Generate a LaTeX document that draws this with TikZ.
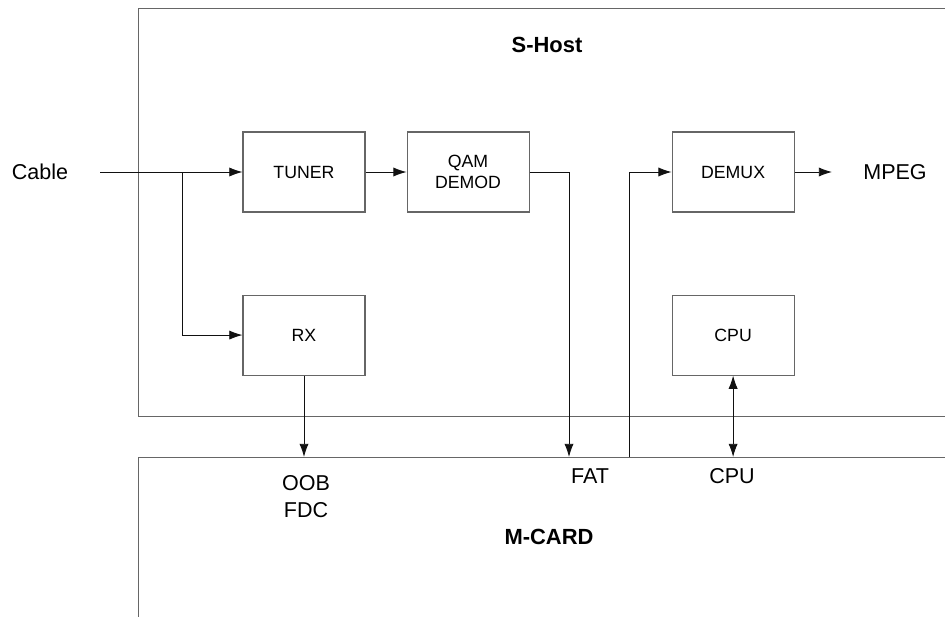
\documentclass[tikz,border=0pt]{standalone}
\usepackage{fontspec}
\setmainfont{Liberation Sans}
\usetikzlibrary{arrows.meta, positioning}
\definecolor{framegray}{HTML}{666666}
\definecolor{ink}{HTML}{111111}

\begin{document}
\begin{tikzpicture}[
  font=\fontsize{12.6}{15.3}\selectfont,        % Arial-like, box text
  frame/.style={rectangle, draw=framegray, line width=0.8pt, anchor=north west},
  block/.style={rectangle, draw=framegray, line width=0.75pt, fill=white,
                minimum width=3.05cm, minimum height=2cm, align=center, inner sep=0pt},
  tag/.style={font=\fontsize{15.3}{19.4}\selectfont, align=center, inner sep=0pt},
  title/.style={font=\bfseries\fontsize{15.6}{18}\selectfont, inner sep=0pt},
  sig/.style={-{Latex[length=3.3mm, width=2.3mm]}, draw=ink, line width=0.65pt},
  bisig/.style={{Latex[length=3.3mm, width=2.3mm]}-{Latex[length=3.3mm, width=2.3mm]},
                draw=ink, line width=0.65pt}
]
  % page = 945 x 616 px at 0.025cm/px
  \useasboundingbox (0,0) rectangle (23.625,15.4);
  \clip (0,0) rectangle (23.625,15.4);

  % --- host and card frames (both run off the right / bottom edge) ---
  \node[frame, minimum width=21cm, minimum height=10.2cm] (shost) at (3.45,15.2) {};
  \node[frame, minimum width=21cm, minimum height=5cm]    (mcard) at (3.45,3.975) {};
  \node[title] (hostlabel) at (13.675,14.275) {S-Host};
  \node[title] (cardlabel) at (13.725,1.975)  {M-CARD};

  % --- top row: tuner | qam demod | demux ---
  \node[block] (tuner) at (7.6,11.1)          {TUNER};
  \node[block, right=1.025cm of tuner] (qam)  {QAM\\ DEMOD};
  \node[block, right=3.55cm of qam]   (demux) {DEMUX};
  % --- bottom row: rx | cpu ---
  \node[block, below=2.05cm of tuner] (rx)    {RX};
  \node[block, below=2.05cm of demux] (cpu)   {CPU};

  % outside labels
  \node[tag] (cable) at (1.0,11.1)    {Cable};
  \node[tag] (mpeg)  at (22.375,11.1) {MPEG};
  \node[tag] (oob)   at (7.65,2.99)   {OOB\\ FDC};
  \node[tag] (fat)   at (14.75,3.5)   {FAT};
  \node[tag] (cpuif) at (18.3,3.5)    {CPU};

  % free ends of connectors
  \coordinate (cin)     at (2.5,11.1);
  \coordinate (split)   at (4.55,11.1);
  \coordinate (mpegout) at (20.8,11.1);
  \coordinate (fatend)  at (14.225,3.975);
  \coordinate (tsin)    at (15.7375,3.975);

  % --- edges ---
  \draw[sig] (cin) -- (tuner);
  \draw[sig] (split) |- (rx);
  \draw[sig] (tuner) -- (qam);
  \draw[sig] (qam.east) -| (fatend);
  \draw[sig] (tsin) |- (demux.west);
  \draw[sig] (demux) -- (mpegout);
  \draw[sig] (rx) -- (rx |- mcard.north);
  \draw[bisig] (cpu) -- (cpu |- mcard.north);

\end{tikzpicture}
\end{document}
